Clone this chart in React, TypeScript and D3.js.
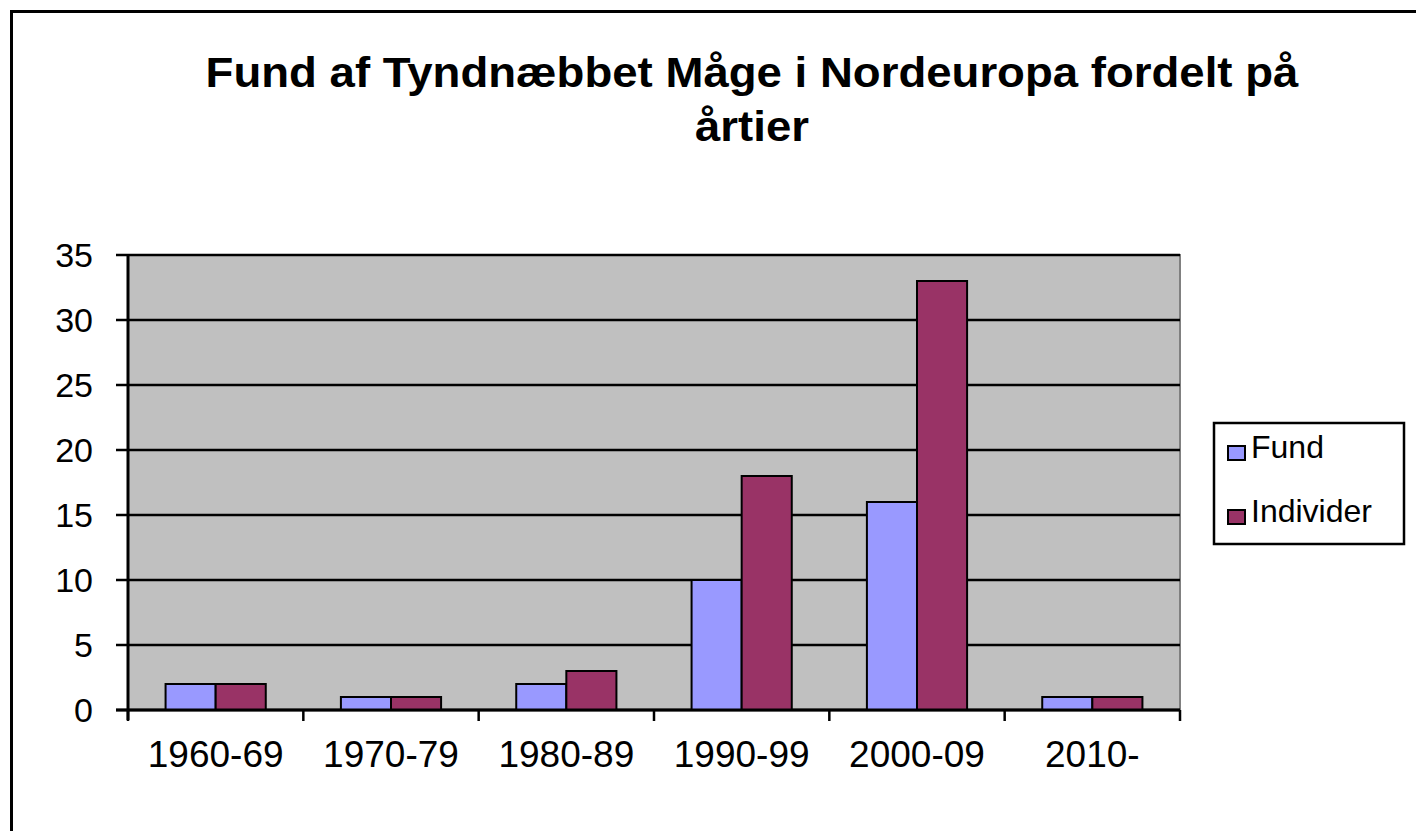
import { useEffect, useRef } from "react"
import * as d3 from "d3"

const categories = ["1960-69", "1970-79", "1980-89", "1990-99", "2000-09", "2010-"]
const seriesNames = ["Fund", "Individer"]
const fund = [2, 1, 2, 10, 16, 1]
const individer = [2, 1, 3, 18, 33, 1]
const yTicks = [0, 5, 10, 15, 20, 25, 30, 35]
const colors = ["#9999FF", "#993366"]

export default function App() {
  const svgRef = useRef(null)

  useEffect(() => {
    const width = 1416
    const height = 831
    const font = "Liberation Sans, Arial, sans-serif"
    const svg = d3.select(svgRef.current).attr("width", width).attr("height", height)
    svg.selectAll("*").remove()

    svg.append("rect").attr("width", width).attr("height", height).attr("fill", "#fff")
    // outer frame, right/bottom edges fall outside the picture
    svg
      .append("rect")
      .attr("x", 11.5)
      .attr("y", 11.5)
      .attr("width", width + 20)
      .attr("height", height + 20)
      .attr("fill", "none")
      .attr("stroke", "#000")
      .attr("stroke-width", 3)

    const left = 128
    const right = 1180
    const top = 255
    const bottom = 710

    const x0 = d3.scaleBand().domain(categories).range([left, right]).padding(0)
    const x1 = d3.scaleBand().domain(seriesNames).range([0, x0.bandwidth()]).paddingInner(0).paddingOuter(0.75)
    const y = d3.scaleLinear().domain([0, 35]).range([bottom, top])

    svg
      .append("rect")
      .attr("x", left)
      .attr("y", top)
      .attr("width", right - left)
      .attr("height", bottom - top)
      .attr("fill", "#C0C0C0")
      .attr("stroke", "#808080")
      .attr("stroke-width", 2)

    svg
      .append("g")
      .selectAll("line")
      .data(yTicks)
      .enter()
      .append("line")
      .attr("x1", left - 12)
      .attr("x2", right)
      .attr("y1", (d) => y(d))
      .attr("y2", (d) => y(d))
      .attr("stroke", "#000")
      .attr("stroke-width", 2.5)

    svg
      .append("g")
      .selectAll("text")
      .data(yTicks)
      .enter()
      .append("text")
      .attr("x", 93)
      .attr("y", (d) => y(d) + 12)
      .attr("text-anchor", "end")
      .attr("font-family", font)
      .attr("font-size", 34)
      .attr("fill", "#000")
      .text((d) => d)

    const rows = categories.map((c, i) => ({ cat: c, values: [fund[i], individer[i]] }))

    const groups = svg
      .append("g")
      .selectAll("g")
      .data(rows)
      .enter()
      .append("g")
      .attr("transform", (d) => `translate(${x0(d.cat)},0)`)

    groups
      .selectAll("rect")
      .data((d) => d.values.map((v, j) => ({ key: seriesNames[j], v, j })))
      .enter()
      .append("rect")
      .attr("x", (d) => x1(d.key))
      .attr("y", (d) => y(d.v))
      .attr("width", x1.bandwidth())
      .attr("height", (d) => y(0) - y(d.v))
      .attr("fill", (d) => colors[d.j])
      .attr("stroke", "#000")
      .attr("stroke-width", 2)

    // axes lines
    svg.append("line").attr("x1", left).attr("x2", left).attr("y1", top).attr("y2", bottom + 10)
      .attr("stroke", "#000").attr("stroke-width", 3)
    svg.append("line").attr("x1", left - 12).attr("x2", right).attr("y1", bottom).attr("y2", bottom)
      .attr("stroke", "#000").attr("stroke-width", 3)

    const tickXs = categories.map((c) => x0(c)).concat([right])
    svg
      .append("g")
      .selectAll("line")
      .data(tickXs)
      .enter()
      .append("line")
      .attr("x1", (d) => d)
      .attr("x2", (d) => d)
      .attr("y1", bottom)
      .attr("y2", bottom + 11)
      .attr("stroke", "#000")
      .attr("stroke-width", 2.5)

    svg
      .append("g")
      .selectAll("text")
      .data(categories)
      .enter()
      .append("text")
      .attr("x", (d) => x0(d) + x0.bandwidth() / 2)
      .attr("y", 767)
      .attr("text-anchor", "middle")
      .attr("font-family", font)
      .attr("font-size", 37)
      .attr("fill", "#000")
      .text((d) => d)

    // title
    const title = svg.append("g").attr("font-family", font).attr("font-weight", "bold").attr("fill", "#000")
    title
      .append("text")
      .attr("transform", "translate(752,87) scale(1.06,1)")
      .attr("text-anchor", "middle")
      .attr("font-size", 43)
      .text("Fund af Tyndnæbbet Måge i Nordeuropa fordelt på")
    title
      .append("text")
      .attr("transform", "translate(752,141) scale(1.06,1)")
      .attr("text-anchor", "middle")
      .attr("font-size", 43)
      .text("årtier")

    // legend
    const legend = svg.append("g")
    legend
      .append("rect")
      .attr("x", 1214)
      .attr("y", 423)
      .attr("width", 190)
      .attr("height", 121)
      .attr("fill", "#fff")
      .attr("stroke", "#000")
      .attr("stroke-width", 2.5)
    const items = legend
      .selectAll("g")
      .data(seriesNames)
      .enter()
      .append("g")
      .attr("transform", (d, i) => `translate(1228,${458 + i * 64})`)
    items
      .append("rect")
      .attr("x", 0)
      .attr("y", -12)
      .attr("width", 17)
      .attr("height", 14)
      .attr("fill", (d, i) => colors[i])
      .attr("stroke", "#000")
      .attr("stroke-width", 2)
    items
      .append("text")
      .attr("x", 23)
      .attr("y", 0)
      .attr("font-family", font)
      .attr("font-size", 32)
      .attr("fill", "#000")
      .text((d) => d)
  }, [])

  return (
    <div style={{ position: "absolute", left: 0, top: 0 }}>
      <svg ref={svgRef} style={{ display: "block" }}></svg>
    </div>
  )
}
